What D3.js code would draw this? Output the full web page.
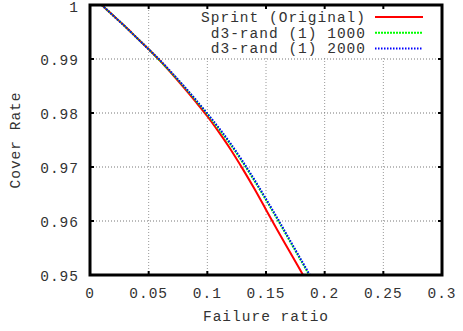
<!DOCTYPE html>
<html>
<head>
<meta charset="utf-8">
<script src="https://cdn.jsdelivr.net/npm/d3@7"></script>
<style>
  body { margin: 0; background: #fff; }
  text { font-family: "Liberation Mono", "DejaVu Sans Mono", monospace; font-size: 14.5px; letter-spacing: 1px; fill: #333; }
</style>
</head>
<body>
<script>
// Chart data
var failureRatio = [0.01, 0.02, 0.03, 0.04, 0.05, 0.06, 0.07, 0.08, 0.09, 0.10,
                    0.11, 0.12, 0.13, 0.14, 0.15, 0.16, 0.17, 0.18, 0.19];
var sprintOriginal = [1.0, 0.9980, 0.9960, 0.9939, 0.9918, 0.9896, 0.9872, 0.9847, 0.9821, 0.9794,
                      0.9764, 0.9732, 0.9697, 0.9660, 0.9621, 0.9582, 0.9544, 0.9506, 0.9468];
var rand1000 = [1.0, 0.9980, 0.9960, 0.9939, 0.9918, 0.9896, 0.9873, 0.9849, 0.9824, 0.9798,
                0.9770, 0.9741, 0.9709, 0.9675, 0.9639, 0.9602, 0.9564, 0.9526, 0.9488];
var rand2000 = [1.0, 0.9980, 0.9960, 0.9939, 0.9918, 0.9897, 0.9874, 0.9850, 0.9825, 0.9799,
                0.9772, 0.9743, 0.9711, 0.9677, 0.9641, 0.9604, 0.9566, 0.9528, 0.9490];
var seriesNames = ["Sprint (Original)", "d3-rand (1) 1000", "d3-rand (1) 2000"];
var xTicks = [0, 0.05, 0.1, 0.15, 0.2, 0.25, 0.3];
var yTicks = [0.95, 0.96, 0.97, 0.98, 0.99, 1];

var width = 463, height = 331;
var margin = {top: 5, right: 21, bottom: 56, left: 90};

var svg = d3.select("body").append("svg")
    .attr("width", width)
    .attr("height", height);

var x = d3.scaleLinear().domain([0, 0.3]).range([margin.left, width - margin.right]);
var y = d3.scaleLinear().domain([0.95, 1]).range([height - margin.bottom, margin.top]);

// Clip for the curves
svg.append("clipPath").attr("id", "plot")
  .append("rect")
    .attr("x", x(0)).attr("y", y(1))
    .attr("width", x(0.3) - x(0)).attr("height", y(0.95) - y(1));

// Grid lines
svg.append("g").selectAll("line")
    .data(xTicks.slice(1, -1)).enter().append("line")
    .attr("x1", function(d){ return x(d); }).attr("x2", function(d){ return x(d); })
    .attr("y1", y(0.95)).attr("y2", y(1))
    .attr("stroke", "#999").attr("stroke-width", 1).attr("stroke-dasharray", "1,2");
svg.append("g").selectAll("line")
    .data(yTicks.slice(1, -1)).enter().append("line")
    .attr("x1", x(0)).attr("x2", x(0.3))
    .attr("y1", function(d){ return y(d); }).attr("y2", function(d){ return y(d); })
    .attr("stroke", "#777").attr("stroke-width", 1).attr("stroke-dasharray", "1,2");

// Curves
var line = d3.line()
    .curve(d3.curveMonotoneX)
    .x(function(d){ return x(d[0]); })
    .y(function(d){ return y(d[1]); });

var series = [
  {name: seriesNames[0], values: sprintOriginal, color: "#f00", dash: null},
  {name: seriesNames[1], values: rand1000, color: "#0f0", dash: "2,1"},
  {name: seriesNames[2], values: rand2000, color: "#00f", dash: "1.5,1.5"}
];

svg.append("g").attr("clip-path", "url(#plot)").selectAll("path")
    .data(series).enter().append("path")
    .attr("fill", "none")
    .attr("stroke", function(d){ return d.color; })
    .attr("stroke-width", 2)
    .attr("stroke-dasharray", function(d){ return d.dash; })
    .attr("d", function(d){
      return line(d.values.map(function(v, i){ return [failureRatio[i], v]; }));
    });

// Legend (opaque)
var legend = svg.append("g");
legend.append("rect")
    .attr("x", 196).attr("y", y(1))
    .attr("width", x(0.3) - 196).attr("height", 52)
    .attr("fill", "#fff");
var rows = legend.selectAll("g.row").data(series).enter().append("g")
    .attr("transform", function(d, i){ return "translate(0," + (17 + i * 15.7) + ")"; });
rows.append("text")
    .attr("x", 366).attr("dy", "0.35em")
    .attr("text-anchor", "end")
    .text(function(d){ return d.name; });
rows.append("line")
    .attr("x1", 375).attr("x2", 423)
    .attr("stroke", function(d){ return d.color; })
    .attr("stroke-width", 2)
    .attr("stroke-dasharray", function(d){ return d.dash; });

// Tick marks on all four sides
var tl = 4;
var ticks = svg.append("g");
xTicks.forEach(function(d){
  ticks.append("line").attr("x1", x(d)).attr("x2", x(d)).attr("y1", y(0.95)).attr("y2", y(0.95) - tl).attr("stroke", "#000").attr("stroke-width", 2);
  ticks.append("line").attr("x1", x(d)).attr("x2", x(d)).attr("y1", y(1)).attr("y2", y(1) + tl).attr("stroke", "#000").attr("stroke-width", 2);
});
yTicks.forEach(function(d){
  ticks.append("line").attr("x1", x(0)).attr("x2", x(0) + tl).attr("y1", y(d)).attr("y2", y(d)).attr("stroke", "#000").attr("stroke-width", 2);
  ticks.append("line").attr("x1", x(0.3)).attr("x2", x(0.3) - tl).attr("y1", y(d)).attr("y2", y(d)).attr("stroke", "#000").attr("stroke-width", 2);
});

// Frame
svg.append("rect")
    .attr("x", x(0)).attr("y", y(1))
    .attr("width", x(0.3) - x(0)).attr("height", y(0.95) - y(1))
    .attr("fill", "none").attr("stroke", "#000").attr("stroke-width", 3);

// Tick labels
svg.append("g").selectAll("text")
    .data(xTicks).enter().append("text")
    .attr("x", function(d){ return x(d); })
    .attr("y", 298)
    .attr("text-anchor", "middle")
    .text(function(d){ return d3.format("")(d); });
svg.append("g").selectAll("text")
    .data(yTicks).enter().append("text")
    .attr("x", 79)
    .attr("y", function(d){ return Math.max(y(d) + 1, 7); })
    .attr("dy", "0.35em")
    .attr("text-anchor", "end")
    .text(function(d){ return d3.format("")(d); });

// Axis titles
svg.append("text")
    .attr("x", 266).attr("y", 321)
    .attr("text-anchor", "middle")
    .text("Failure ratio");
svg.append("text")
    .attr("transform", "translate(20,140) rotate(-90)")
    .attr("text-anchor", "middle")
    .text("Cover Rate");
</script>
</body>
</html>
